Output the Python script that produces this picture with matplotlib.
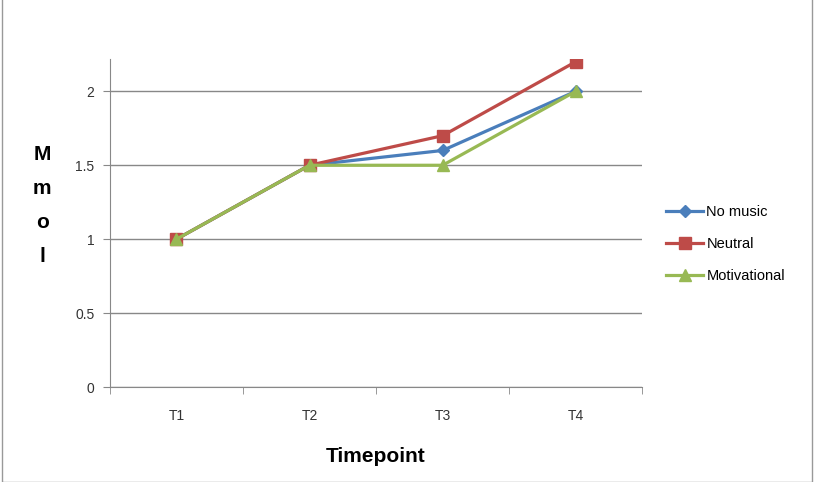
import numpy as np
import matplotlib.pyplot as plt
from matplotlib.patches import Rectangle

plt.rcParams['font.family'] = ['Liberation Sans Narrow', 'Liberation Sans', 'DejaVu Sans']

categorias = ['T1', 'T2', 'T3', 'T4']
no_music = [1.0, 1.5, 1.6, 2.0]
neutral = [1.0, 1.5, 1.7, 2.2]
motivational = [1.0, 1.5, 1.5, 2.0]
yticks = [0, 0.5, 1, 1.5, 2]
ytick_labels = ['0', '0.5', '1', '1.5', '2']

x = np.arange(len(categorias))

fig = plt.figure(figsize=(8.14, 4.82), dpi=100)
ax = fig.add_axes([0.135, 0.197, 0.654, 0.681])

ax.plot(x, no_music, color='#4a7ebb', lw=2.3, marker='D', ms=6, label='No music', zorder=3)
ax.plot(x, neutral, color='#be4b48', lw=2.3, marker='s', ms=8, label='Neutral', zorder=3)
ax.plot(x, motivational, color='#98b954', lw=2.3, marker='^', ms=9, label='Motivational', zorder=4)

ax.set_xlim(-0.5, 3.5)
ax.set_ylim(0, 2.22)
ax.set_yticks(yticks)
ax.set_yticklabels(ytick_labels, fontsize=10, color='#333333')
ax.set_xticks(x)
ax.set_xticklabels(categorias, fontsize=10, color='#333333')
ax.tick_params(axis='x', length=0, pad=16)
ax.set_xticks(np.arange(-0.5, 4, 1), minor=True)
ax.tick_params(axis='x', which='minor', length=5, color='#888888', direction='out')
ax.tick_params(axis='y', length=5, color='#888888', direction='out', pad=6)

ax.grid(axis='y', color='#888888', lw=1)
ax.set_axisbelow(True)
for s in ['top', 'right']:
    ax.spines[s].set_visible(False)
for s in ['left', 'bottom']:
    ax.spines[s].set_color('#888888')

ax.set_xlabel('Timepoint', fontsize=15, fontweight='bold', labelpad=17)

# rotulo do eixo y empilhado
fig.text(0.052, 0.573, 'M\nm\no\nl', fontsize=15, fontweight='bold', ha='center', va='center',
         linespacing=2.0, family=['Liberation Sans', 'DejaVu Sans'])

ax.legend(loc='center left', bbox_to_anchor=(1.0, 0.436), frameon=False, fontsize=10.5,
          handlelength=2.6, labelspacing=1.25, handletextpad=0.2, borderaxespad=1.2)

fig.patches.append(Rectangle((0.003, 0.0), 0.994, 1.2, transform=fig.transFigure,
                             fill=False, edgecolor='#999999', lw=1))

fig.savefig('out.png', dpi=100)
